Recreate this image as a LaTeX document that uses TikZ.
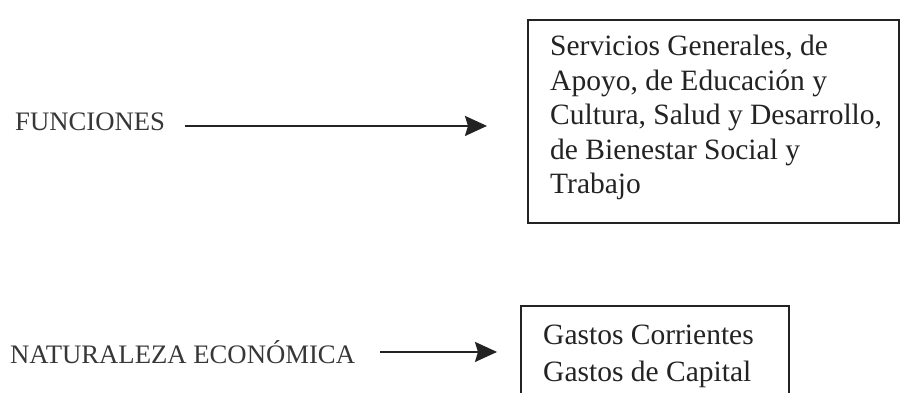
\documentclass[tikz,border=0pt]{standalone}
\usepackage{fontspec}
\setmainfont{Liberation Serif}
\usetikzlibrary{arrows.meta}
\definecolor{ink}{RGB}{35,35,35}
\definecolor{lab}{RGB}{55,55,55}
\tikzset{
  frame/.style={draw=ink, line width=1.8pt, inner sep=0pt, anchor=north west},
  boxtext/.style={text=ink, align=left, inner sep=0pt, anchor=north west},
  label/.style={text=lab, inner sep=0pt, anchor=base west, font=\fontsize{26.7}{30}\selectfont, text height=17.7pt, text depth=0pt},
  arr/.style={draw=ink, line width=2.2pt, -{Stealth[length=22pt, width=20pt, inset=3pt]}}
}
\begin{document}
\begin{tikzpicture}[x=1pt, y=-1pt]
\useasboundingbox (0,0) rectangle (900,392);
\clip (0,0) rectangle (900,392);
\fill[white] (0,0) rectangle (900,392);
% boxes
\node[frame, minimum width=371pt, minimum height=203pt] (box1) at (527,19) {};
\node[boxtext, font=\fontsize{29.5}{34.6}\selectfont] (t1) at (550,34.9)
  {Servicios Generales, de\\Apoyo, de Educación y\\Cultura, Salud y Desarrollo,\\de Bienestar Social y\\Trabajo};
\node[frame, minimum width=268pt, minimum height=110pt] (box2) at (520,305) {};
\node[boxtext, font=\fontsize{29.5}{37}\selectfont] (t2) at (543,325.1)
  {Gastos Corrientes\\Gastos de Capital};
% labels
\node[label] (fun) at (15,130) {FUNCIONES};
\node[label] (nat) at (10,363) {NATURALEZA ECONÓMICA};
% arrows
\draw[arr] ([shift={(20pt,-4.8pt)}]fun.east) -- ([shift={(-40pt,-4.8pt)}]fun.east -| box1.west);
\draw[arr] ([shift={(25pt,2.2pt)}]nat.east) -- ([shift={(-23pt,2.2pt)}]nat.east -| box2.west);
\end{tikzpicture}
\end{document}
